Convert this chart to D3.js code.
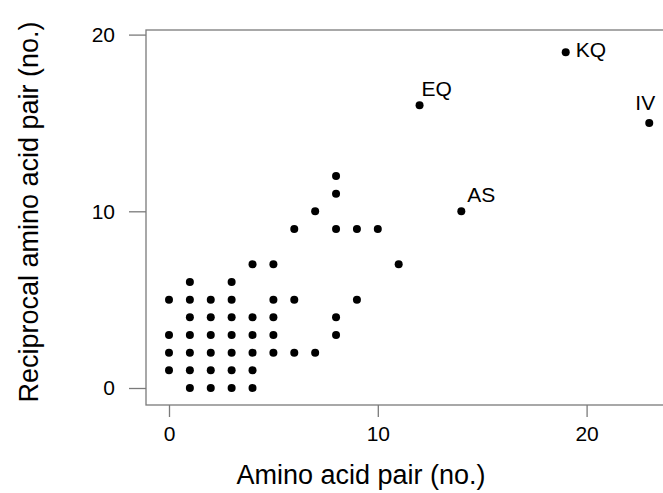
<!DOCTYPE html>
<html>
<head>
<meta charset="utf-8">
<script src="https://cdn.jsdelivr.net/npm/d3@7"></script>
<style>
  body { margin: 0; background: #fff; }
  svg { display: block; font-family: "Liberation Sans", Arial, sans-serif; }
</style>
</head>
<body>
<script>
// amino acid pair counts (x) vs reciprocal pair counts (y)
const pairX = [8, 8, 7, 6, 8, 9, 10, 4, 5, 11, 1, 3,
               0, 1, 2, 3, 5, 6, 9,
               1, 2, 3, 4, 5, 8,
               0, 1, 2, 3, 4, 5, 8,
               0, 1, 2, 3, 4, 5, 6, 7,
               0, 1, 2, 3, 4,
               1, 2, 3, 4,
               14, 12, 19, 23];
const pairY = [12, 11, 10, 9, 9, 9, 9, 7, 7, 7, 6, 6,
               5, 5, 5, 5, 5, 5, 5,
               4, 4, 4, 4, 4, 4,
               3, 3, 3, 3, 3, 3, 3,
               2, 2, 2, 2, 2, 2, 2, 2,
               1, 1, 1, 1, 1,
               0, 0, 0, 0,
               10, 16, 19, 15];
const labelNames = ["AS", "EQ", "KQ", "IV"];
const labelX = [14, 12, 19, 23];
const labelY = [10, 16, 19, 15];
const xTicks = [0, 10, 20];
const yTicks = [0, 10, 20];

const width = 663, height = 493;
// label placement relative to point, in px
const labelStyle = {
  AS: {dx: 6, dy: -9, anchor: "start"},
  EQ: {dx: 2, dy: -9, anchor: "start"},
  KQ: {dx: 10, dy: 5, anchor: "start"},
  IV: {dx: -4, dy: -13, anchor: "middle"}
};

const svg = d3.select("body").append("svg")
    .attr("width", width).attr("height", height);

const x = d3.scaleLinear().domain([0, 20]).range([169, 586.6]);
const y = d3.scaleLinear().domain([0, 20]).range([388, 34.6]);

const box = {left: 146, top: 30, bottom: 405, right: 668};
const grey = "#7a7a7a";

// frame
svg.append("rect")
   .attr("x", box.left).attr("y", box.top)
   .attr("width", box.right - box.left).attr("height", box.bottom - box.top)
   .attr("fill", "none").attr("stroke", grey).attr("stroke-width", 1.3);

// x axis
const xAxis = d3.axisBottom(x).tickValues(xTicks).tickSize(12).tickPadding(9);
const gx = svg.append("g")
   .attr("transform", "translate(0," + box.bottom + ")")
   .call(xAxis);
gx.select(".domain").remove();
gx.selectAll(".tick line").attr("stroke", grey).attr("stroke-width", 1.3);
gx.selectAll(".tick text").attr("font-size", "21px").attr("fill", "#000")
   .attr("font-family", "Liberation Sans, Arial, sans-serif");

// y axis
const yAxis = d3.axisLeft(y).tickValues(yTicks).tickSize(17).tickPadding(14);
const gy = svg.append("g")
   .attr("transform", "translate(" + box.left + ",0)")
   .call(yAxis);
gy.select(".domain").remove();
gy.selectAll(".tick line").attr("stroke", grey).attr("stroke-width", 1.3);
gy.selectAll(".tick text").attr("font-size", "21px").attr("fill", "#000")
   .attr("font-family", "Liberation Sans, Arial, sans-serif");

// points
svg.append("g").selectAll("circle")
   .data(d3.range(pairX.length))
   .enter().append("circle")
   .attr("cx", i => x(pairX[i]))
   .attr("cy", i => y(pairY[i]))
   .attr("r", 4)
   .attr("fill", "#000");

// point labels
svg.append("g").selectAll("text")
   .data(d3.range(labelNames.length))
   .enter().append("text")
   .attr("x", i => x(labelX[i]) + labelStyle[labelNames[i]].dx)
   .attr("y", i => y(labelY[i]) + labelStyle[labelNames[i]].dy)
   .attr("text-anchor", i => labelStyle[labelNames[i]].anchor)
   .attr("font-size", "21px")
   .text(i => labelNames[i]);

// axis titles
svg.append("text")
   .attr("x", 361).attr("y", 484)
   .attr("text-anchor", "middle")
   .attr("font-size", "27px")
   .text("Amino acid pair (no.)");

svg.append("text")
   .attr("transform", "translate(38,212) rotate(-90)")
   .attr("text-anchor", "middle")
   .attr("font-size", "27px")
   .text("Reciprocal amino acid pair (no.)");
</script>
</body>
</html>
